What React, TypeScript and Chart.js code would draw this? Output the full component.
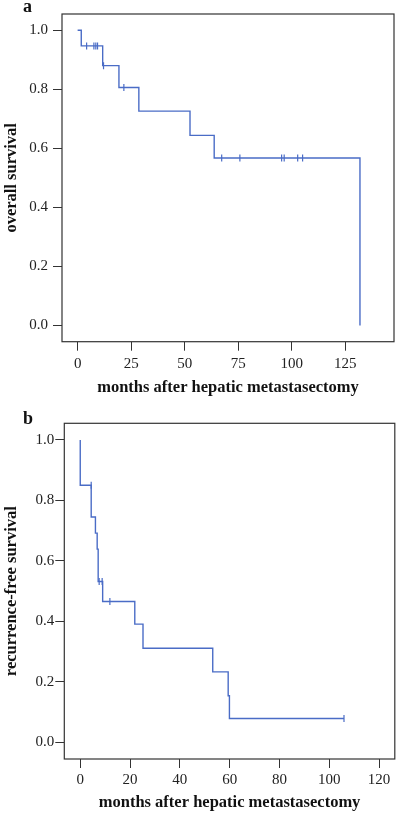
import React, { useEffect, useRef } from "react";
import { Chart, registerables } from "chart.js";
Chart.register(...registerables);

// Panel a: overall survival
const osTimes = [0, 1.7, 11.7, 19.3, 28.6, 52.5, 63.8, 131.9];
const osSurv = [1.0, 0.947, 0.88, 0.806, 0.726, 0.644, 0.567, 0.0];
const osCensorTimes = [4.2, 7.6, 8.5, 9.3, 12.1, 21.6, 67.3, 75.8, 95.3, 96.5, 102.8, 105.1];
const osCensorSurv = [0.947, 0.947, 0.947, 0.947, 0.88, 0.806, 0.567, 0.567, 0.567, 0.567, 0.567, 0.567];
const osXTicks = [0, 25, 50, 75, 100, 125];

// Panel b: recurrence-free survival
const rfsTimes = [0, 0, 4.4, 6.1, 6.8, 7.2, 9.0, 21.9, 25.2, 53.2, 59.4, 59.9, 105.9];
const rfsSurv = [1.0, 0.85, 0.745, 0.692, 0.639, 0.532, 0.466, 0.391, 0.311, 0.233, 0.154, 0.079, 0.079];
const rfsCensorTimes = [4.4, 7.6, 8.8, 11.9, 105.9];
const rfsCensorSurv = [0.85, 0.532, 0.532, 0.466, 0.079];
const rfsXTicks = [0, 20, 40, 60, 80, 100, 120];

const yTicks = [0, 0.2, 0.4, 0.6, 0.8, 1.0];

const xTitle = "months after hepatic metastasectomy";
const FONT = '"Liberation Serif", "Times New Roman", serif';
const BLUE = "#4a6cc6";
const AXIS = "#333333";

const framePlugin = {
  id: "frame",
  afterDraw(chart: any) {
    const { ctx, chartArea } = chart;
    const { left, top, right, bottom } = chartArea;
    ctx.save();
    ctx.strokeStyle = AXIS;
    ctx.lineWidth = 1.2;
    ctx.strokeRect(left, top, right - left, bottom - top);
    ctx.restore();
  },
};

type P = {
  times: number[];
  surv: number[];
  cTimes: number[];
  cSurv: number[];
  xTicks: number[];
  xMin: number;
  xMax: number;
  yTitle: string;
  yWidth: number;
  xHeight: number;
  pad: { left: number; right: number; top: number; bottom: number };
  yTickPad: number;
  xTickPad: number;
};

function makeConfig(p: P): any {
  return {
    type: "line",
    data: {
      datasets: [
        {
          data: p.times.map((t, i) => ({ x: t, y: p.surv[i] })),
          borderColor: BLUE,
          borderWidth: 1.4,
          stepped: true,
          pointRadius: 0,
          fill: false,
        },
        {
          data: p.cTimes.map((t, i) => ({ x: t, y: p.cSurv[i] })),
          showLine: false,
          pointStyle: "line",
          rotation: 90,
          pointRadius: 3.5,
          borderColor: BLUE,
          backgroundColor: BLUE,
          borderWidth: 1.2,
        },
      ],
    },
    options: {
      responsive: false,
      animation: false,
      events: [],
      layout: { padding: p.pad },
      plugins: { legend: { display: false }, tooltip: { enabled: false } },
      scales: {
        x: {
          type: "linear",
          min: p.xMin,
          max: p.xMax,
          afterBuildTicks: (s: any) => {
            s.ticks = p.xTicks.map((v) => ({ value: v }));
          },
          afterFit: (s: any) => {
            s.height = p.xHeight;
          },
          grid: { drawOnChartArea: false, drawTicks: true, tickLength: 9, tickColor: AXIS, lineWidth: 1 },
          border: { display: false },
          ticks: {
            font: { family: FONT, size: 15 },
            color: "#222",
            padding: p.xTickPad,
            maxRotation: 0,
            autoSkip: false,
            callback: (v: any) => String(v),
          },
          title: {
            display: true,
            text: xTitle,
            font: { family: FONT, size: 16.5, weight: "bold" },
            color: "#111",
            padding: { top: 0, bottom: 2 },
          },
        },
        y: {
          type: "linear",
          min: -0.055,
          max: 1.055,
          afterBuildTicks: (s: any) => {
            s.ticks = yTicks.map((v) => ({ value: v }));
          },
          afterFit: (s: any) => {
            s.width = p.yWidth;
          },
          grid: { drawOnChartArea: false, drawTicks: true, tickLength: 9, tickColor: AXIS, lineWidth: 1 },
          border: { display: false },
          ticks: {
            font: { family: FONT, size: 15 },
            color: "#222",
            padding: p.yTickPad,
            autoSkip: false,
            callback: (v: any) => Number(v).toFixed(1),
          },
          title: {
            display: true,
            text: p.yTitle,
            font: { family: FONT, size: 16.5, weight: "bold" },
            color: "#111",
            padding: { top: 2, bottom: 0 },
          },
        },
      },
    },
    plugins: [framePlugin],
  };
}

function Panel({ params, width, height }: { params: P; width: number; height: number }) {
  const ref = useRef<HTMLCanvasElement | null>(null);
  useEffect(() => {
    if (!ref.current) return;
    const chart = new Chart(ref.current, makeConfig(params));
    return () => chart.destroy();
  }, []);
  return <canvas ref={ref} width={width} height={height} style={{ display: "block", width, height }} />;
}

const panelA: P = {
  times: osTimes,
  surv: osSurv,
  cTimes: osCensorTimes,
  cSurv: osCensorSurv,
  xTicks: osXTicks,
  xMin: -7.3,
  xMax: 147.8,
  yTitle: "overall survival",
  yWidth: 62,
  xHeight: 58.3,
  pad: { left: 0, right: 6, top: 10.5, bottom: 0 },
  yTickPad: 5,
  xTickPad: 4,
};

const panelB: P = {
  times: rfsTimes,
  surv: rfsSurv,
  cTimes: rfsCensorTimes,
  cSurv: rfsCensorSurv,
  xTicks: rfsXTicks,
  xMin: -6.4,
  xMax: 126.3,
  yTitle: "recurrence-free survival",
  yWidth: 64.3,
  xHeight: 56,
  pad: { left: 0, right: 4, top: 13.3, bottom: 0 },
  yTickPad: 1,
  xTickPad: 3.5,
};

const labelStyle: React.CSSProperties = {
  position: "absolute",
  left: 23,
  fontFamily: FONT,
  fontWeight: "bold",
  fontSize: 18,
  lineHeight: "18px",
  color: "#111",
};

export default function App() {
  return (
    <div style={{ position: "absolute", left: 0, top: 0, width: 400, height: 815, background: "#fff" }}>
      <div style={{ position: "absolute", left: 0, top: 0 }}>
        <Panel params={panelA} width={400} height={400} />
      </div>
      <div style={{ position: "absolute", left: 0, top: 410 }}>
        <Panel params={panelB} width={400} height={405} />
      </div>
      <div style={{ ...labelStyle, top: -3 }}>a</div>
      <div style={{ ...labelStyle, top: 408.5 }}>b</div>
    </div>
  );
}
